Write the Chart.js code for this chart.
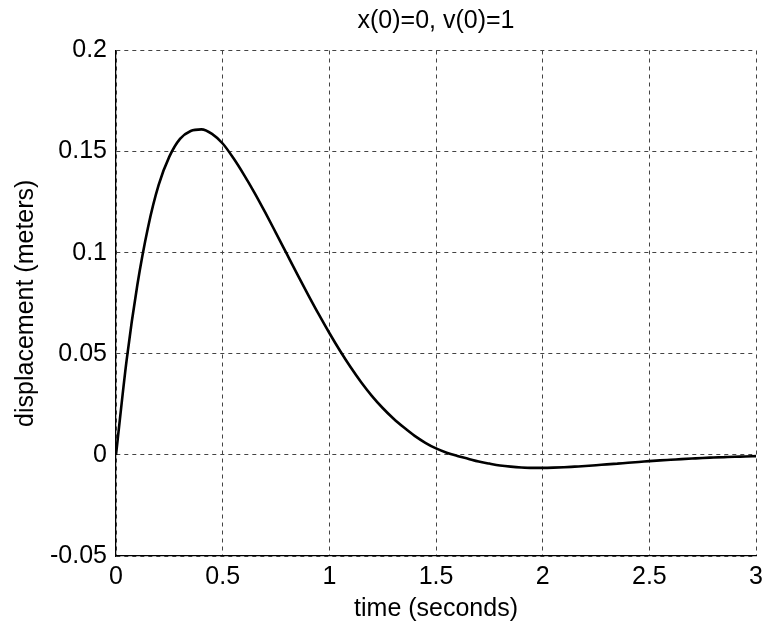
<!DOCTYPE html>
<html>
<head>
<meta charset="utf-8">
<script src="https://cdn.jsdelivr.net/npm/chart.js@4/dist/chart.umd.min.js"></script>
<style>
html,body{margin:0;padding:0;background:#fff;}
#wrap{width:769px;height:629px;}
</style>
</head>
<body>
<div id="wrap"><canvas id="c" width="769" height="629"></canvas></div>
<script>
const chartTitle = "x(0)=0, v(0)=1";
const xAxisTitle = "time (seconds)";
const yAxisTitle = "displacement (meters)";
const xTickLabels = ["0", "0.5", "1", "1.5", "2", "2.5", "3"];
const yTickLabels = ["-0.05", "0", "0.05", "0.1", "0.15", "0.2"];
const timeValues = [0, 0.05, 0.1, 0.15, 0.2, 0.25, 0.3, 0.35, 0.4, 0.45, 0.5, 0.55, 0.6, 0.65, 0.7, 0.75, 0.8, 0.85, 0.9, 0.95, 1.0,
  1.05, 1.1, 1.15, 1.2, 1.25, 1.3, 1.35, 1.4, 1.45, 1.5, 1.55, 1.6, 1.65, 1.7, 1.75, 1.8, 1.85, 1.9, 1.95, 2.0,
  2.05, 2.1, 2.15, 2.2, 2.25, 2.3, 2.35, 2.4, 2.45, 2.5, 2.55, 2.6, 2.65, 2.7, 2.75, 2.8, 2.85, 2.9, 2.95, 3.0];
const displacement = [0, 0.047, 0.084, 0.1125, 0.1335, 0.1475, 0.1563, 0.1602, 0.161, 0.1588, 0.154, 0.1468, 0.1385, 0.1295, 0.1198, 0.1097, 0.0995, 0.0893, 0.0793, 0.0696, 0.0603,
  0.0515, 0.0433, 0.0358, 0.0291, 0.0232, 0.018, 0.0135, 0.0094, 0.006, 0.0032, 0.0011, -0.0005, -0.0019, -0.0033, -0.0043, -0.0052, -0.0058, -0.0062, -0.0064, -0.0064,
  -0.0063, -0.0061, -0.0058, -0.0055, -0.0051, -0.0047, -0.0043, -0.0039, -0.0035, -0.0031, -0.0027, -0.0024, -0.0021, -0.0018, -0.0015, -0.0013, -0.0011, -0.0009, -0.0008, -0.0006];

const points = timeValues.map((t, i) => ({x: t, y: displacement[i]}));
const FONT = "'Liberation Sans', Arial, Helvetica, sans-serif";
Chart.defaults.font.family = FONT;
Chart.defaults.color = '#000';

new Chart(document.getElementById('c'), {
  type: 'scatter',
  data: {
    datasets: [{
      data: points,
      showLine: true,
      borderColor: '#000',
      borderWidth: 2.6,
      pointRadius: 0,
      cubicInterpolationMode: 'monotone',
      fill: false
    }]
  },
  options: {
    responsive: false,
    animation: false,
    events: [],
    layout: {padding: {left: 0, right: 12, top: 0, bottom: 0}},
    plugins: {
      legend: {display: false},
      tooltip: {enabled: false},
      title: {
        display: true,
        text: chartTitle,
        fullSize: false,
        color: '#000',
        font: {family: FONT, size: 25, weight: 'normal', lineHeight: 1.2},
        padding: {top: 6, bottom: 14.5}
      }
    },
    scales: {
      x: {
        type: 'linear',
        min: 0, max: 3,
        afterFit: s => { s.height = 73; },
        afterBuildTicks: s => { s.ticks = xTickLabels.map(v => ({value: parseFloat(v)})); },
        ticks: {
          callback: (v, i) => xTickLabels[i],
          font: {size: 25},
          color: '#000',
          padding: 6,
          maxRotation: 0,
          autoSkip: false
        },
        grid: {color: '#444', lineWidth: 1, drawTicks: false},
        border: {display: true, color: '#000', width: 1.3, dash: [4, 4]},
        title: {display: true, text: xAxisTitle, color: '#000', font: {size: 25}, padding: {top: 0, bottom: 5}}
      },
      y: {
        type: 'linear',
        min: -0.05, max: 0.2,
        afterFit: s => { s.width = 116; },
        afterBuildTicks: s => { s.ticks = yTickLabels.map(v => ({value: parseFloat(v)})); },
        ticks: {
          callback: (v, i) => yTickLabels[i],
          font: {size: 25},
          color: '#000',
          padding: 9,
          autoSkip: false
        },
        grid: {color: '#444', lineWidth: 1, drawTicks: false},
        border: {display: true, color: '#000', width: 1.3, dash: [4, 4]},
        title: {display: true, text: yAxisTitle, color: '#000', font: {size: 25}, padding: {top: 11, bottom: 0}}
      }
    }
  }
});
</script>
</body>
</html>
